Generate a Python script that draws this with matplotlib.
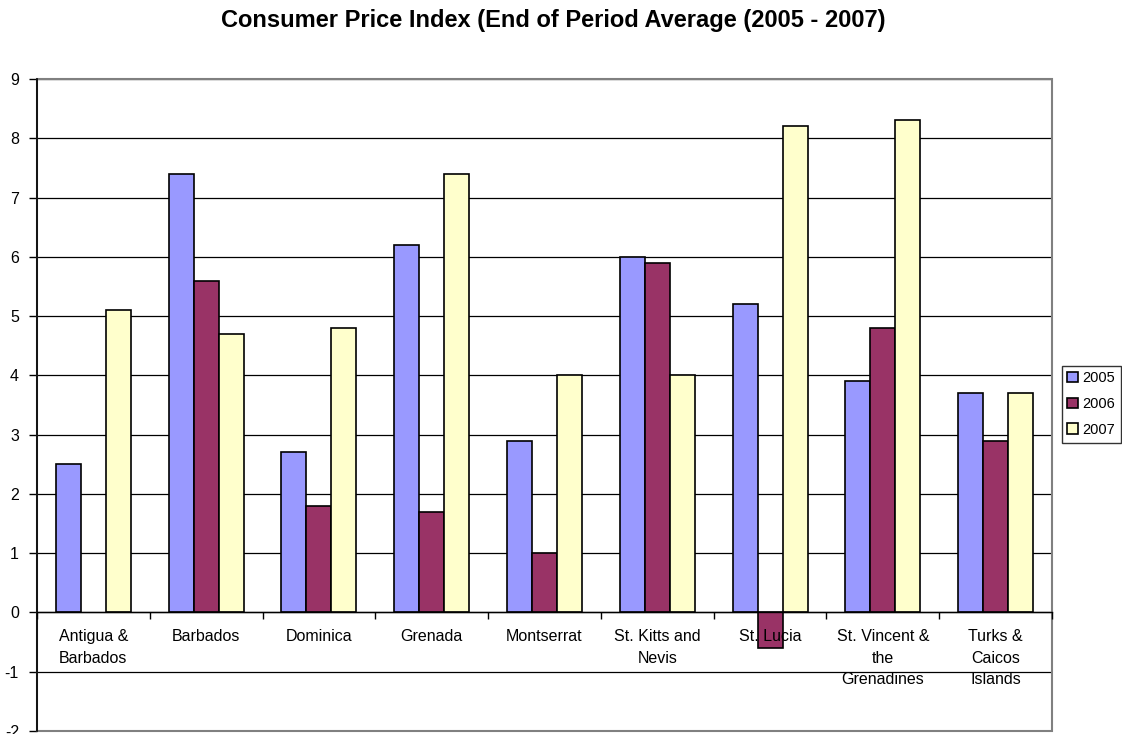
import matplotlib
matplotlib.use("Agg")
import matplotlib.pyplot as plt
import numpy as np
from matplotlib.patches import Rectangle

plt.rcParams["font.family"] = ["Liberation Sans", "DejaVu Sans"]
plt.rcParams["axes.unicode_minus"] = False

categories = [
    "Antigua &\nBarbados", "Barbados", "Dominica", "Grenada", "Montserrat",
    "St. Kitts and\nNevis", "St. Lucia", "St. Vincent &\nthe\nGrenadines",
    "Turks &\nCaicos\nIslands",
]
years = ["2005", "2006", "2007"]
cpi_2005 = [2.5, 7.4, 2.7, 6.2, 2.9, 6.0, 5.2, 3.9, 3.7]
cpi_2006 = [np.nan, 5.6, 1.8, 1.7, 1.0, 5.9, -0.6, 4.8, 2.9]  # no value for Antigua
cpi_2007 = [5.1, 4.7, 4.8, 7.4, 4.0, 4.0, 8.2, 8.3, 3.7]
colors = ["#9999FF", "#993366", "#FFFFCC"]

fig = plt.figure(figsize=(11.22, 7.34), dpi=100)
ax = fig.add_axes([37 / 1122, 1 - 731 / 734, 1015 / 1122, 652 / 734])

x = np.arange(len(categories))
width = 0.222
for i, (vals, year) in enumerate(zip([cpi_2005, cpi_2006, cpi_2007], years)):
    ax.bar(x + (i - 1) * width, vals, width, color=colors[i],
           edgecolor="black", linewidth=1.2, label=year, zorder=2)

ax.set_xlim(-0.5, len(categories) - 0.5)
ax.set_ylim(-2, 9)
ax.set_yticks(range(-2, 10))
ax.yaxis.grid(True, color="black", linewidth=0.9)
ax.set_axisbelow(True)
ax.xaxis.set_zorder(3)  # category labels drawn over the negative bar
ax.tick_params(axis="y", direction="out", length=6, width=1, labelsize=11.5, pad=7)

# category axis sits on the zero line
for side in ["top", "right"]:
    ax.spines[side].set_visible(False)
ax.spines["bottom"].set_position(("data", 0))
ax.spines["bottom"].set_linewidth(1)
ax.spines["left"].set_linewidth(1.2)
ax.set_xticks(np.arange(len(categories) + 1) - 0.5)
ax.set_xticklabels([])
ax.set_xticks(x, minor=True)
ax.set_xticklabels(categories, minor=True, fontsize=11.5, linespacing=1.55)
ax.tick_params(axis="x", which="major", direction="out", length=5, width=1)
ax.tick_params(axis="x", which="minor", length=0, pad=12)

# plot-area frame
ax.add_patch(Rectangle((0, 0), 1, 1, transform=ax.transAxes, fill=False,
                       edgecolor="#808080", linewidth=1.5, zorder=1, clip_on=False))

fig.suptitle("Consumer Price Index (End of Period Average (2005 - 2007)",
             fontsize=17, fontweight="bold", x=553 / 1122, y=1 - 9 / 734, va="top")

fig.legend(loc="center", bbox_to_anchor=(1091 / 1122, 1 - 404 / 734),
           fontsize=10.5, frameon=True, fancybox=False, edgecolor="black",
           handlelength=0.7, handleheight=0.7, handletextpad=0.3,
           labelspacing=0.8, borderpad=0.4, borderaxespad=0)

fig.savefig("out.png", dpi=100)
